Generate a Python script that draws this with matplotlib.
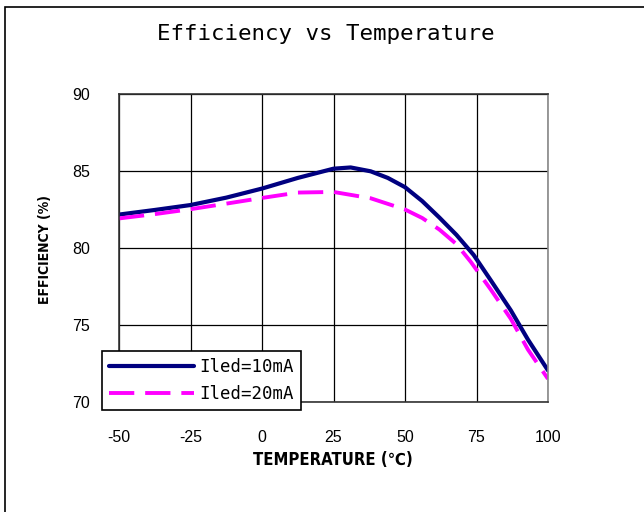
import matplotlib
matplotlib.use("Agg")
import matplotlib.pyplot as plt
from matplotlib.patches import Rectangle

plt.rcParams["axes.unicode_minus"] = False

temp_10 = [-50, -37.5, -25, -12.5, 0, 12.5, 25, 31, 38, 44, 50, 56, 62, 68, 74, 80, 87, 93, 100]
eff_10 = [82.17, 82.47, 82.79, 83.27, 83.86, 84.55, 85.15, 85.23, 84.98, 84.55, 83.95, 83.05, 81.98,
          80.85, 79.55, 77.9, 75.95, 74.05, 72.05]
temp_20 = [-50, -37.5, -25, -12.5, 0, 12.5, 25, 38, 50, 56, 62, 68, 73, 80, 87, 93, 100]
eff_20 = [81.92, 82.2, 82.52, 82.88, 83.25, 83.6, 83.64, 83.23, 82.5, 81.95, 81.2, 80.25, 79.1,
          77.3, 75.4, 73.4, 71.5]
x_ticks = [-50, -25, 0, 25, 50, 75, 100]
y_ticks = [70, 75, 80, 85, 90]
labels = ["Iled=10mA", "Iled=20mA"]

W, H = 644, 512
fig = plt.figure(figsize=(W / 100, H / 100), dpi=100)
fig.patch.set_facecolor("white")

# outer frame
fig.patches.append(Rectangle((5 / W, -0.1), 1.2, 1 - 7 / H + 0.1, transform=fig.transFigure,
                             fill=False, edgecolor="black", linewidth=1.2))

ax = fig.add_axes([119 / W, 1 - 402 / H, (548 - 119) / W, (402 - 94) / H])
ax.set_xlim(-50, 100)
ax.set_ylim(70, 90)
ax.set_xticks(x_ticks)
ax.set_yticks(y_ticks)
ax.grid(True, color="black", linewidth=0.9)
ax.set_axisbelow(True)
ax.tick_params(length=0, labelsize=11.5)
ax.tick_params(axis="x", pad=20)
ax.tick_params(axis="y", pad=21)
for lab in ax.get_xticklabels() + ax.get_yticklabels():
    lab.set_family("Liberation Sans")
for s in ax.spines.values():
    s.set_color("#333333")
    s.set_linewidth(1.2)
ax.spines["right"].set_color("#888888")

ax.plot(temp_10, eff_10, color="#000080", linewidth=3.0, solid_capstyle="round",
        solid_joinstyle="round", label=labels[0])
ax.plot(temp_20, eff_20, color="#FF00FF", linewidth=2.8, dashes=(6.5, 2.8), label=labels[1])

fig.text(326 / W, 1 - 34 / H, "Efficiency vs Temperature", ha="center", va="center",
         fontsize=16.2, family="DejaVu Sans Mono")
fig.text(333 / W, 1 - 460 / H, "TEMPERATURE (℃)", ha="center", va="center",
         fontsize=12, fontweight="bold", family=["DejaVu Sans", "Noto Sans CJK JP"], stretch="condensed")
fig.text(45 / W, 1 - 250 / H, "EFFICIENCY (%)", ha="center", va="center", rotation=90,
         fontsize=10, fontweight="bold", family="DejaVu Sans", stretch="condensed")

leg = ax.legend(loc="lower left", bbox_to_anchor=(102 / W, 1 - 410 / H), bbox_transform=fig.transFigure,
                frameon=True, fancybox=False, handlelength=4.9, borderaxespad=0, borderpad=0.4,
                labelspacing=0.5, handletextpad=0.3, prop={"family": "DejaVu Sans Mono", "size": 12.5})
leg.get_frame().set_edgecolor("black")
leg.get_frame().set_linewidth(1.2)
leg.get_frame().set_alpha(1)

fig.savefig("out.png", dpi=100)
